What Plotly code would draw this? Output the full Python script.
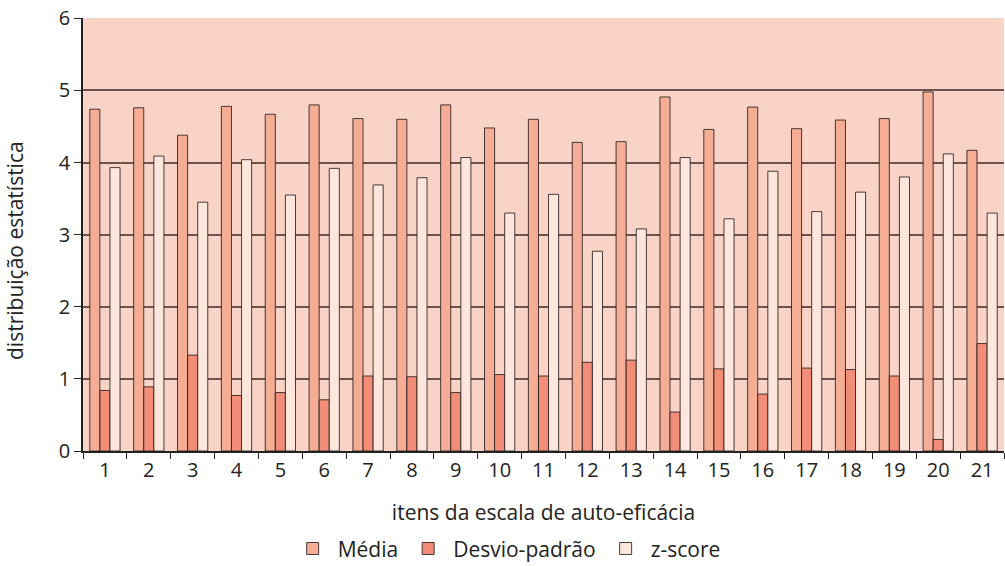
import plotly.graph_objects as go

itens = [str(i) for i in range(1, 22)]
media = [4.74, 4.76, 4.38, 4.78, 4.67, 4.80, 4.61, 4.60, 4.80, 4.48, 4.60,
         4.28, 4.29, 4.91, 4.46, 4.77, 4.47, 4.59, 4.61, 4.98, 4.17]
desvio = [0.84, 0.89, 1.33, 0.77, 0.81, 0.71, 1.04, 1.03, 0.81, 1.06, 1.04,
          1.23, 1.26, 0.54, 1.14, 0.79, 1.15, 1.13, 1.04, 0.16, 1.49]
zscore = [3.93, 4.09, 3.45, 4.04, 3.55, 3.92, 3.69, 3.79, 4.07, 3.30, 3.56,
          2.77, 3.08, 4.07, 3.22, 3.88, 3.32, 3.59, 3.80, 4.12, 3.30]
y_ticks = [0, 1, 2, 3, 4, 5, 6]

FONT = "Open Sans"
FS = 21
TXT = "#222222"
line = dict(color="rgba(40,30,30,0.85)", width=1)

fig = go.Figure()
fig.add_trace(go.Bar(x=itens, y=media, name="Média",
                     marker=dict(color="#F6AD95", line=line)))
fig.add_trace(go.Bar(x=itens, y=desvio, name="Desvio-padrão",
                     marker=dict(color="#F28E77", line=line)))
fig.add_trace(go.Bar(x=itens, y=zscore, name="z-score",
                     marker=dict(color="#FDE7DD", line=line)))

fig.update_layout(
    width=1005, height=566,
    margin=dict(l=83, r=1, t=18, b=115, autoexpand=False),
    paper_bgcolor="white",
    plot_bgcolor="#F9D3C6",
    barmode="group",
    bargap=0.31,
    bargroupgap=0.0,
    font=dict(family=FONT, size=FS, color=TXT),
    showlegend=True,
    legend=dict(orientation="h", x=0.46, xanchor="center", y=-0.226, yanchor="middle",
                font=dict(family=FONT, size=FS, color=TXT),
                itemwidth=40, tracegroupgap=0),
    annotations=[dict(text="distribuição estatística", xref="paper", yref="paper",
                      x=-0.0738, y=0.462, xanchor="center", yanchor="middle",
                      textangle=-90, showarrow=False,
                      font=dict(family=FONT, size=FS, color=TXT))],
)
fig.update_xaxes(
    type="category",
    automargin=False,
    tickson="boundaries",
    ticks="outside", ticklen=6, tickcolor=TXT, tickwidth=1,
    showline=True, linecolor=TXT, linewidth=1.5,
    showgrid=False,
    title=dict(text="itens da escala de auto-eficácia", standoff=24,
               font=dict(family=FONT, size=FS, color=TXT)),
    tickfont=dict(family=FONT, size=20, color=TXT),
)
fig.update_yaxes(
    automargin=False,
    range=[0, 6.005],
    tickvals=y_ticks,
    ticklabeloverflow="allow",
    ticks="outside", ticklen=7, tickcolor=TXT, tickwidth=1,
    showline=True, linecolor=TXT, linewidth=1.5,
    showgrid=True, gridcolor="rgba(60,40,40,0.75)", gridwidth=1.5,
    zeroline=False,
    tickfont=dict(family=FONT, size=20, color=TXT),
)

fig.write_html("out.html",
               config={"displayModeBar": False},
               post_script="document.body.style.margin='0';document.body.style.overflow='hidden';")
